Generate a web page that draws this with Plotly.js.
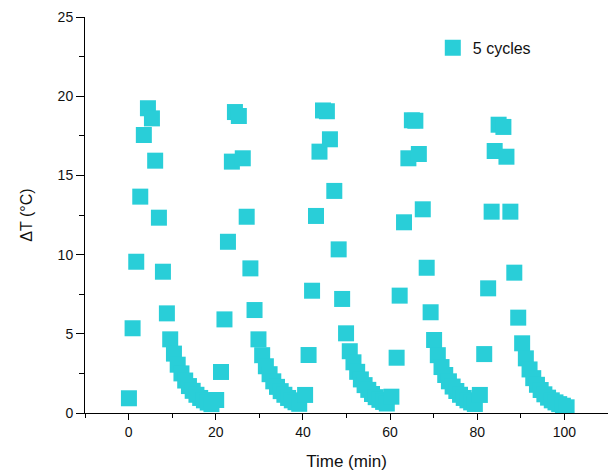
<!DOCTYPE html>
<html>
<head>
<meta charset="utf-8">
<script src="https://cdn.plot.ly/plotly-3.0.1.min.js"></script>
<style>html,body{margin:0;padding:0;background:#fff;}#chart{width:608px;height:475px;}</style>
</head>
<body>
<div id="chart"></div>
<script>
// Time (min) and temperature rise ΔT (°C) for each of the 5 heating/cooling cycles
const time1 = [0.08, 0.92, 1.76, 2.68, 3.5, 4.44, 5.36, 6.1, 6.96, 7.88, 8.79, 9.55, 10.41, 11.27, 12.13, 12.99, 13.85, 14.71, 15.57, 16.43, 17.29, 18.15, 19.01];
const dT1   = [0.93, 5.35, 9.55, 13.66, 17.55, 19.24, 18.6, 15.93, 12.33, 8.92, 6.29, 4.65, 3.75, 3.05, 2.5, 2.05, 1.7, 1.4, 1.15, 0.95, 0.8, 0.66, 0.56];
const time2 = [20.1, 21.2, 22.0, 22.8, 23.7, 24.4, 25.3, 26.2, 27.1, 27.95, 28.9, 29.8, 30.65, 31.5, 32.35, 33.2, 34.05, 34.9, 35.75, 36.6, 37.45, 38.3, 39.15];
const dT2   = [0.82, 2.59, 5.91, 10.81, 15.87, 19.0, 18.75, 16.08, 12.39, 9.13, 6.5, 4.65, 3.65, 2.95, 2.45, 2.0, 1.65, 1.38, 1.15, 0.95, 0.8, 0.68, 0.58];
const time3 = [40.5, 41.3, 42.1, 43.0, 43.8, 44.6, 45.5, 46.2, 47.2, 48.2, 49.0, 49.9, 50.75, 51.6, 52.45, 53.3, 54.15, 55.0, 55.85, 56.7, 57.55, 58.4, 59.25];
const dT3   = [1.14, 3.66, 7.72, 12.44, 16.5, 19.1, 19.05, 17.28, 14.02, 10.33, 7.2, 5.03, 3.9, 3.2, 2.6, 2.12, 1.76, 1.46, 1.2, 1.0, 0.83, 0.7, 0.6];
const time4 = [60.3, 61.5, 62.2, 63.2, 64.2, 65.0, 65.8, 66.6, 67.5, 68.4, 69.3, 70.1, 70.95, 71.8, 72.65, 73.5, 74.35, 75.2, 76.05, 76.9, 77.75, 78.6, 79.45];
const dT4   = [1.03, 3.49, 7.41, 12.04, 16.08, 18.48, 18.45, 16.35, 12.86, 9.17, 6.36, 4.61, 3.65, 2.9, 2.4, 2.0, 1.67, 1.39, 1.15, 0.95, 0.8, 0.67, 0.57];
const time5 = [80.6, 81.6, 82.5, 83.3, 84.0, 84.9, 86.0, 86.7, 87.6, 88.5, 89.4, 90.3, 91.15, 92.0, 92.85, 93.7, 94.55, 95.4, 96.25, 97.1, 97.95, 98.8, 99.65, 100.5];
const dT5   = [1.14, 3.72, 7.87, 12.71, 16.54, 18.2, 18.06, 16.18, 12.71, 8.86, 6.02, 4.4, 3.45, 2.75, 2.2, 1.78, 1.45, 1.18, 0.97, 0.8, 0.67, 0.56, 0.46, 0.36];

const seriesName = '5 cycles';
const xTickVals = [0, 20, 40, 60, 80, 100];
const yTickVals = [0, 5, 10, 15, 20, 25];

const allTime = [].concat(time1, time2, time3, time4, time5);
const allDT = [].concat(dT1, dT2, dT3, dT4, dT5);

const markerColor = '#29CED8';
const fontFamily = 'Liberation Sans, Arial, sans-serif';

const trace = {
  x: allTime,
  y: allDT,
  type: 'scatter',
  mode: 'markers',
  name: seriesName,
  marker: {symbol: 'square', size: 16, color: markerColor, line: {width: 0}},
  showlegend: true
};

const axisCommon = {
  showline: true, linecolor: '#000', linewidth: 1,
  showgrid: false, zeroline: false,
  ticks: 'outside', tickcolor: '#000', tickwidth: 1,
  tickfont: {family: fontFamily, size: 14, color: '#111'},
  mirror: false
};

const layout = {
  width: 608, height: 475,
  margin: {l: 85, r: 0, t: 17, b: 62},
  paper_bgcolor: '#fff', plot_bgcolor: '#fff',
  font: {family: fontFamily, color: '#111'},
  showlegend: true,
  legend: {
    x: 0.665, y: 0.922, xanchor: 'left', yanchor: 'middle',
    bgcolor: 'rgba(0,0,0,0)', borderwidth: 0,
    font: {family: fontFamily, size: 16, color: '#111'}
  },
  xaxis: Object.assign({}, axisCommon, {
    range: [-10, 110],
    tickmode: 'array', tickvals: xTickVals, ticktext: xTickVals.map(String),
    ticklen: 6,
    minor: {dtick: 10, tick0: 0, ticks: 'outside', ticklen: 4, tickcolor: '#000', tickwidth: 1, showgrid: false},
    title: {text: 'Time (min)', font: {family: fontFamily, size: 17, color: '#111'}, standoff: 16}
  }),
  yaxis: Object.assign({}, axisCommon, {
    range: [0, 25],
    tickmode: 'array', tickvals: yTickVals, ticktext: yTickVals.map(String),
    ticklen: 8,
    minor: {dtick: 2.5, tick0: 0, ticks: 'outside', ticklen: 5, tickcolor: '#000', tickwidth: 1, showgrid: false},
    title: {text: 'ΔT (°C)', font: {family: fontFamily, size: 16, color: '#111'}, standoff: 21}
  })
};

Plotly.newPlot('chart', [trace], layout, {displayModeBar: false, staticPlot: true});
</script>
</body>
</html>
